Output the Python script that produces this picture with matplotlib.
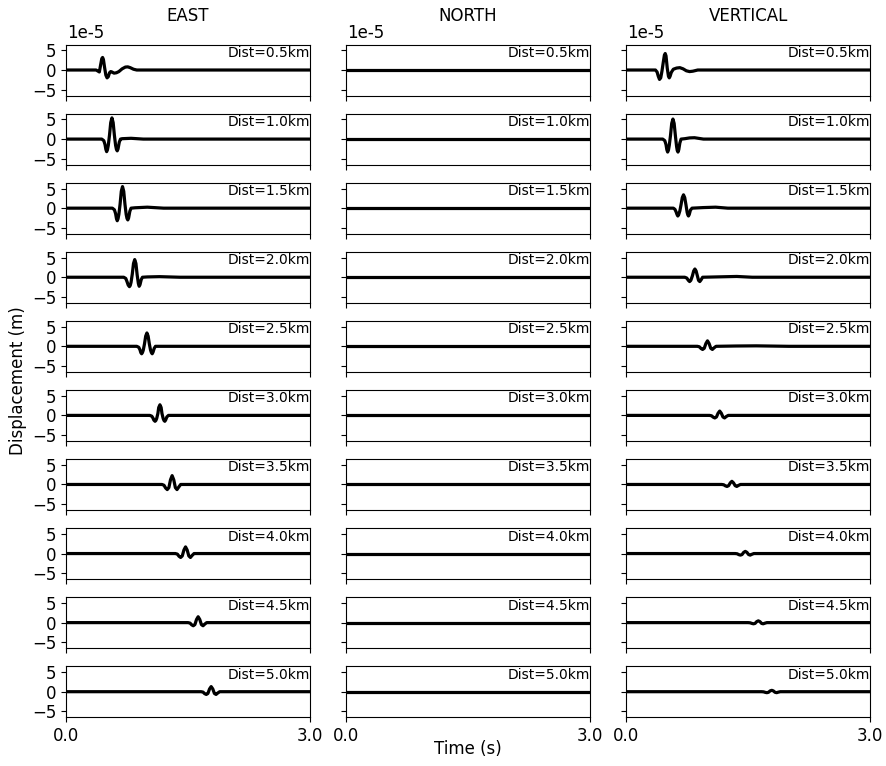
import matplotlib
matplotlib.use("Agg")
import matplotlib.pyplot as plt
from matplotlib.ticker import FormatStrFormatter

# station distances (km) and component names
distances = [0.5, 1.0, 1.5, 2.0, 2.5, 3.0, 3.5, 4.0, 4.5, 5.0]
components = ["EAST", "NORTH", "VERTICAL"]

# picked samples of each trace: time (s) and displacement (x 1e-5 m)
east_t = [
    [0.37, 0.395, 0.41, 0.425, 0.44, 0.45, 0.46, 0.475, 0.49, 0.505, 0.52, 0.535,
     0.55, 0.565, 0.59, 0.62, 0.65, 0.69, 0.73, 0.76, 0.79, 0.83, 0.87],
    [0.44, 0.465, 0.48, 0.49, 0.50, 0.51, 0.52, 0.535, 0.55, 0.565, 0.58, 0.595,
     0.61, 0.62, 0.63, 0.64, 0.655, 0.67, 0.69, 0.80, 0.95],
    [0.57, 0.595, 0.61, 0.62, 0.63, 0.64, 0.65, 0.665, 0.68, 0.695, 0.71, 0.725,
     0.74, 0.75, 0.76, 0.77, 0.785, 0.80, 0.85, 1.00, 1.20],
    [0.71, 0.735, 0.75, 0.765, 0.78, 0.79, 0.80, 0.815, 0.83, 0.845, 0.86, 0.875,
     0.89, 0.90, 0.91, 0.925, 0.94, 1.00, 1.15, 1.40],
    [0.87, 0.895, 0.91, 0.92, 0.93, 0.94, 0.95, 0.965, 0.98, 0.995, 1.01, 1.025,
     1.04, 1.05, 1.06, 1.07, 1.085, 1.10],
    [1.03, 1.055, 1.07, 1.08, 1.095, 1.105, 1.115, 1.13, 1.14, 1.155, 1.17, 1.18,
     1.195, 1.205, 1.215, 1.225, 1.24, 1.26],
    [1.18, 1.205, 1.225, 1.245, 1.265, 1.285, 1.305, 1.325, 1.345, 1.365, 1.385, 1.41],
    [1.345, 1.37, 1.39, 1.41, 1.43, 1.45, 1.47, 1.49, 1.51, 1.53, 1.55, 1.575],
    [1.50, 1.525, 1.545, 1.565, 1.585, 1.605, 1.625, 1.645, 1.665, 1.685, 1.705, 1.73],
    [1.66, 1.685, 1.705, 1.725, 1.745, 1.765, 1.785, 1.805, 1.825, 1.845, 1.865, 1.89],
]
east_u = [
    [0, -0.3, -0.5, 1.2, 2.9, 3.2, 2.7, 0.6, -1.3, -2.0, -1.7, -0.7,
     -0.4, -0.5, -0.8, -0.7, -0.4, 0.3, 0.75, 0.8, 0.6, 0.2, 0],
    [0, -0.4, -1.4, -2.6, -3.2, -2.7, -1.6, 1.0, 4.2, 5.4, 4.2, 1.0,
     -1.6, -2.6, -3.0, -2.5, -0.8, 0, 0.1, 0.2, 0],
    [0, -0.4, -1.4, -2.6, -3.2, -2.7, -1.6, 1.0, 4.3, 5.5, 4.3, 1.0,
     -1.6, -2.6, -3.0, -2.5, -0.8, 0, 0.1, 0.25, 0],
    [0, -0.3, -1.1, -2.0, -2.4, -2.1, -1.3, 0.8, 3.5, 4.5, 3.5, 0.6,
     -1.6, -2.3, -1.9, -0.6, 0, 0.08, 0.15, 0],
    [0, -0.25, -0.9, -1.6, -1.9, -1.6, -1.0, 0.6, 2.6, 3.4, 2.6, 0.6,
     -1.0, -1.6, -1.9, -1.5, -0.5, 0],
    [0, -0.2, -0.7, -1.2, -1.5, -1.3, -0.8, 0.5, 2.0, 2.7, 2.0, 0.5,
     -0.8, -1.3, -1.5, -1.2, -0.4, 0],
    [0, -0.2, -0.9, -1.3, -0.8, 1.2, 2.25, 1.2, -0.8, -1.3, -0.7, 0],
    [0, -0.15, -0.7, -1.0, -0.6, 0.9, 1.7, 0.9, -0.6, -1.0, -0.5, 0],
    [0, -0.12, -0.55, -0.8, -0.5, 0.8, 1.5, 0.8, -0.5, -0.8, -0.4, 0],
    [0, -0.1, -0.5, -0.7, -0.45, 0.7, 1.3, 0.7, -0.45, -0.7, -0.35, 0],
]

# north component is flat at every station
north_t = [[] for d in distances]
north_u = [[] for d in distances]

vert_t = [
    [0.36, 0.38, 0.395, 0.41, 0.425, 0.44, 0.455, 0.47, 0.48, 0.49, 0.505, 0.52,
     0.53, 0.54, 0.555, 0.58, 0.62, 0.66, 0.70, 0.74, 0.78, 0.82, 0.88],
    [0.45, 0.475, 0.49, 0.50, 0.51, 0.52, 0.53, 0.545, 0.56, 0.575, 0.59, 0.605,
     0.62, 0.628, 0.637, 0.647, 0.66, 0.675, 0.72, 0.78, 0.84, 0.95],
    [0.58, 0.60, 0.615, 0.625, 0.635, 0.645, 0.66, 0.675, 0.69, 0.705, 0.72, 0.735,
     0.75, 0.758, 0.766, 0.776, 0.79, 0.81, 0.95, 1.10, 1.25],
    [0.72, 0.745, 0.765, 0.78, 0.795, 0.815, 0.83, 0.845, 0.86, 0.875, 0.89, 0.905,
     0.92, 0.94, 1.15, 1.36, 1.55],
    [0.875, 0.90, 0.92, 0.94, 0.96, 0.98, 1.00, 1.02, 1.04, 1.06, 1.08, 1.105,
     1.35, 1.60, 2.00],
    [1.025, 1.05, 1.07, 1.09, 1.11, 1.13, 1.15, 1.17, 1.19, 1.21, 1.23, 1.255],
    [1.175, 1.20, 1.22, 1.24, 1.26, 1.28, 1.30, 1.32, 1.34, 1.36, 1.38, 1.405],
    [1.34, 1.365, 1.385, 1.405, 1.425, 1.445, 1.465, 1.485, 1.505, 1.525, 1.545, 1.57],
    [1.50, 1.525, 1.545, 1.565, 1.585, 1.605, 1.625, 1.645, 1.665, 1.685, 1.705, 1.73],
    [1.665, 1.69, 1.71, 1.73, 1.75, 1.77, 1.79, 1.81, 1.83, 1.85, 1.87, 1.895],
]
vert_u = [
    [0, -0.5, -1.6, -2.4, -2.0, -0.3, 1.8, 3.8, 4.2, 3.6, 0.5, -1.6,
     -2.0, -1.6, -0.6, 0.2, 0.5, 0.6, 0.3, -0.2, -0.4, -0.3, 0],
    [0, -0.4, -1.4, -2.7, -3.3, -2.8, -1.6, 0.9, 4.0, 5.1, 4.0, 0.9,
     -1.9, -2.9, -3.3, -2.7, -1.0, 0, 0.1, 0.3, 0.35, 0],
    [0, -0.3, -1.0, -1.6, -2.0, -1.7, -0.7, 0.9, 2.7, 3.4, 2.7, 0.9,
     -1.1, -1.7, -2.0, -1.6, -0.5, 0, 0.15, 0.25, 0],
    [0, -0.2, -0.8, -1.1, -0.8, 0.4, 1.6, 2.1, 1.6, 0.4, -0.8, -1.1,
     -0.7, 0, 0.1, 0.2, 0],
    [0, -0.12, -0.55, -0.8, -0.5, 0.7, 1.4, 0.7, -0.5, -0.8, -0.4, 0,
     0.08, 0.12, 0],
    [0, -0.1, -0.45, -0.65, -0.4, 0.55, 1.1, 0.55, -0.4, -0.65, -0.3, 0],
    [0, -0.08, -0.35, -0.5, -0.3, 0.4, 0.8, 0.4, -0.3, -0.5, -0.25, 0],
    [0, -0.06, -0.28, -0.4, -0.25, 0.3, 0.55, 0.3, -0.25, -0.4, -0.2, 0],
    [0, -0.05, -0.2, -0.3, -0.2, 0.25, 0.45, 0.25, -0.2, -0.3, -0.15, 0],
    [0, -0.04, -0.17, -0.25, -0.15, 0.2, 0.35, 0.2, -0.15, -0.25, -0.12, 0],
]

t_start, t_end = 0.0, 3.0
scale = 1e-5

plt.rcParams['font.size'] = 12

fig, axes = plt.subplots(10, 3, sharex=True, sharey=True, figsize=(8.87, 7.66), dpi=100)
plt.subplots_adjust(left=0.0744, right=0.981, top=0.9419, bottom=0.0637,
                    wspace=0.148, hspace=0.354)

picks = [(east_t, east_u), (north_t, north_u), (vert_t, vert_u)]

for col, (times, amps) in enumerate(picks):
    for row, dist in enumerate(distances):
        ax = axes[row, col]
        # pad each trace with quiet samples at the window edges
        t = [t_start] + times[row] + [t_end]
        u = [0.0] + [a * scale for a in amps[row]] + [0.0]
        ax.plot(t, u, color='k', lw=2.3, solid_joinstyle='round')
        ax.text(1.0, 0.97, "Dist=%.1fkm" % dist, transform=ax.transAxes,
                ha='right', va='top', fontsize=10)
        ax.yaxis.offsetText.set_visible(False)
    # exponent label above the top row of every column
    axes[0, col].annotate("1e-5", xy=(0, 1), xycoords='axes fraction',
                          xytext=(1, 2), textcoords='offset points',
                          ha='left', va='bottom')
    axes[0, col].set_title(components[col], fontsize=12, pad=17)

ax = axes[0, 0]
ax.set_xlim(t_start, t_end)
ax.set_xticks([t_start, t_end])
ax.xaxis.set_major_formatter(FormatStrFormatter('%.1f'))
ax.set_ylim(-6.5e-5, 6.5e-5)
ax.set_yticks([-5e-5, 0, 5e-5])

fig.text(0.02, 0.503, "Displacement (m)", rotation=90, ha='center', va='center')
fig.text(0.527, 0.022, "Time (s)", ha='center', va='center')

plt.savefig("out.png", dpi=100)
